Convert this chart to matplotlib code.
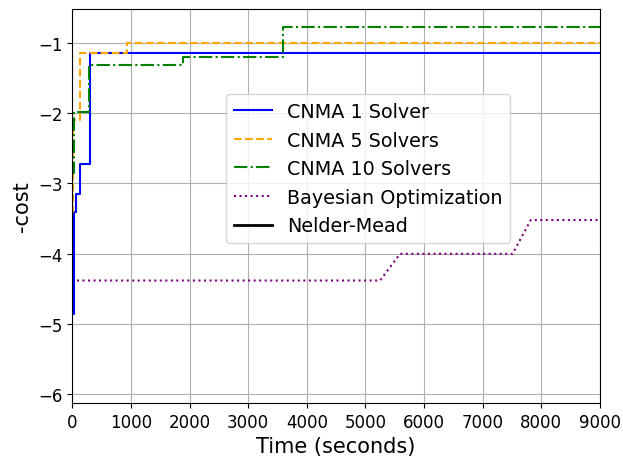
import matplotlib
matplotlib.use('Agg')
import matplotlib.pyplot as plt

# CNMA step curves (time in seconds, -cost)
cnma1_time = [0, 30, 70, 135, 295, 9000]
cnma1_cost = [-4.85, -3.4, -3.15, -2.72, -1.14, -1.14]

cnma5_time = [0, 20, 140, 940, 9000]
cnma5_cost = [-3.4, -2.1, -1.15, -1.0, -1.0]

cnma10_time = [0, 30, 280, 1890, 3600, 9000]
cnma10_cost = [-2.85, -1.98, -1.32, -1.2, -0.77, -0.77]

# Bayesian optimization (piecewise linear)
bo_time = [80, 5250, 5590, 7510, 7820, 9000]
bo_cost = [-4.38, -4.38, -4.0, -4.0, -3.52, -3.52]

# Nelder-Mead (not visible inside the plotted range)
nm_time = []
nm_cost = []

fig, ax = plt.subplots(figsize=(6.23, 4.6), dpi=100)
fig.subplots_adjust(left=0.116, right=0.963, top=0.978, bottom=0.122)

ax.plot(cnma1_time, cnma1_cost, color='blue', lw=1.5, drawstyle='steps-post', label='CNMA 1 Solver')
ax.plot(cnma5_time, cnma5_cost, color='orange', lw=1.5, ls='--', drawstyle='steps-post', label='CNMA 5 Solvers')
ax.plot(cnma10_time, cnma10_cost, color='green', lw=1.5, ls='-.', drawstyle='steps-post', label='CNMA 10 Solvers')
ax.plot(bo_time, bo_cost, color='purple', lw=1.5, ls=':', label='Bayesian Optimization')
ax.plot(nm_time, nm_cost, color='black', lw=2, label='Nelder-Mead')

ax.set_xlim(0, 9000)
ax.set_ylim(-6.12, -0.52)
ax.set_xticks(range(0, 9001, 1000))
ax.set_yticks([-6, -5, -4, -3, -2, -1])
ax.tick_params(labelsize=12)
ax.grid(True, color='#b0b0b0', lw=0.8)
ax.set_xlabel('Time (seconds)', fontsize=15)
ax.set_ylabel('-cost', fontsize=15)

ax.legend(loc='upper left', bbox_to_anchor=(0.273, 0.808), fontsize=13.8,
          handlelength=2.0, borderpad=0.4, labelspacing=0.5)

fig.savefig('out.png', dpi=100)
